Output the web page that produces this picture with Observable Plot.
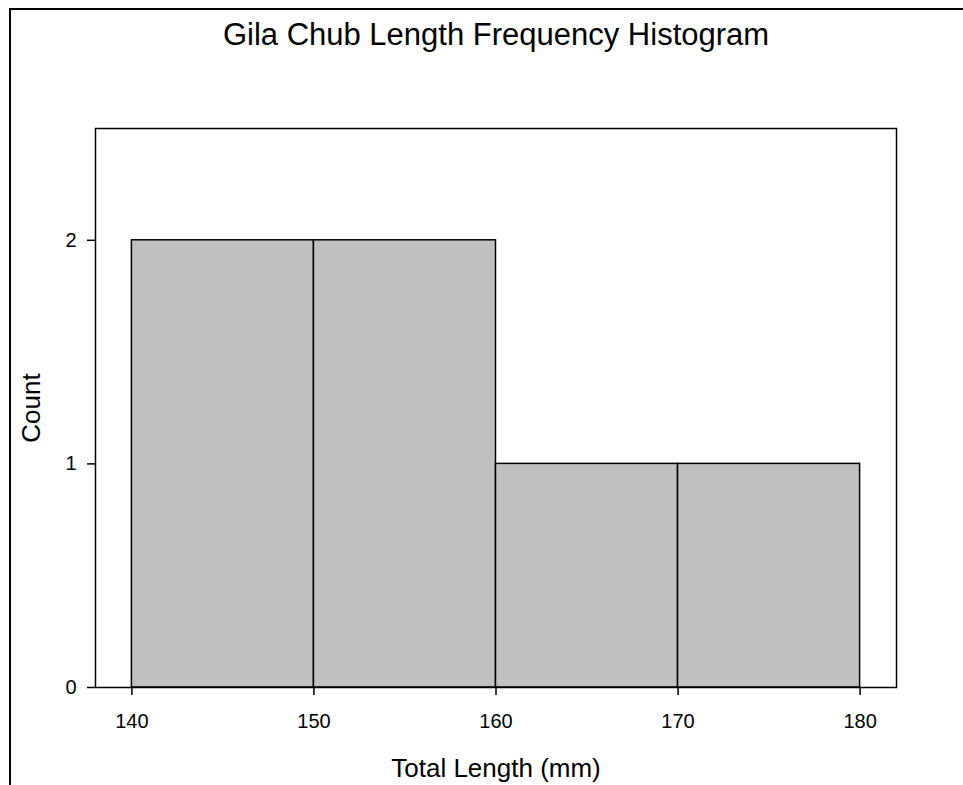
<!DOCTYPE html>
<html>
<head>
<meta charset="utf-8">
<script src="https://cdn.jsdelivr.net/npm/d3@7"></script>
<script src="https://cdn.jsdelivr.net/npm/@observablehq/plot@0.6"></script>
<style>
  html, body { margin: 0; padding: 0; background: #fff; }
  #wrap { position: relative; width: 963px; height: 785px; overflow: hidden; }
  #border { position: absolute; left: 9px; top: 8px; right: -10px; bottom: -10px;
            border-top: 2px solid #000; border-left: 2px solid #000; pointer-events: none; }
  svg { font-family: "Liberation Sans", Arial, sans-serif; }
</style>
</head>
<body>
<div id="wrap"><div id="border"></div></div>
<script>
const binStart = [140, 150, 160, 170];
const binEnd   = [150, 160, 170, 180];
const counts   = [2, 2, 1, 1];
const xTicks = [140, 150, 160, 170, 180];
const yTicks = [0, 1, 2];
const title = "Gila Chub Length Frequency Histogram";
const xLabel = "Total Length (mm)";
const yLabel = "Count";

const bins = binStart.map((s, i) => ({x1: s, x2: binEnd[i], y: counts[i]}));

const chart = Plot.plot({
  width: 963,
  height: 785,
  marginLeft: 95,
  marginRight: 67,
  marginTop: 128,
  marginBottom: 98,
  style: {fontFamily: "'Liberation Sans', Arial, sans-serif", background: "transparent", color: "#000"},
  x: {domain: [138, 182]},
  y: {domain: [0, 2.5]},
  marks: [
    Plot.rectY(bins, {x1: "x1", x2: "x2", y: "y", fill: "#c0c0c0", stroke: "#000", strokeWidth: 1.5, inset: 0}),
    Plot.frame({stroke: "#000", strokeWidth: 1.5}),
    Plot.axisX({ticks: xTicks, tickSize: 8, tickPadding: 18, fontSize: 20, label: null, strokeWidth: 1.5, tickFormat: d => String(d)}),
    Plot.axisY({ticks: yTicks, tickSize: 8, tickPadding: 11, fontSize: 20, label: null, strokeWidth: 1.5, tickFormat: d => String(d)}),
    Plot.text([title], {frameAnchor: "top", textAnchor: "middle", dy: -106, fontSize: 31, fill: "#000"}),
    Plot.text([xLabel], {frameAnchor: "bottom", textAnchor: "middle", dy: 89, fontSize: 26, fill: "#000"}),
    Plot.text([yLabel], {frameAnchor: "left", textAnchor: "middle", dx: -64, rotate: -90, fontSize: 26, fill: "#000"})
  ]
});
document.getElementById("wrap").prepend(chart);
</script>
</body>
</html>
